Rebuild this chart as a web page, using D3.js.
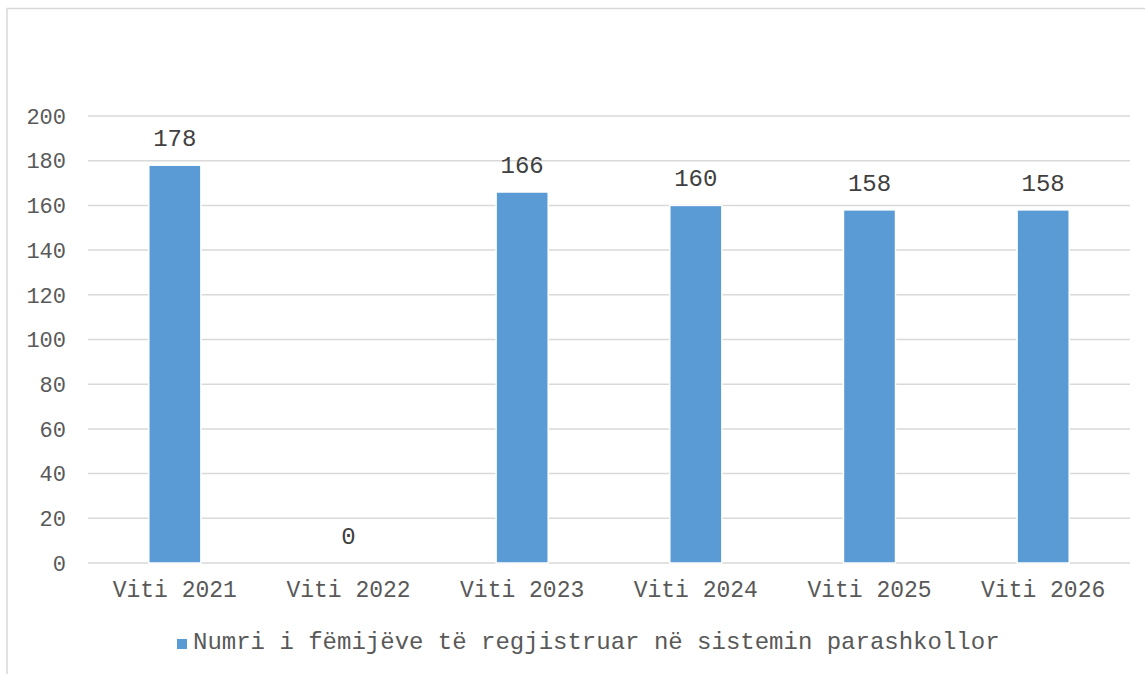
<!DOCTYPE html>
<html>
<head>
<meta charset="utf-8">
<script src="https://cdn.jsdelivr.net/npm/d3@7"></script>
<style>
  body { margin: 0; background: #fff; }
  text { font-family: "Liberation Mono", "Courier New", monospace; }
</style>
</head>
<body>
<div id="chart"></div>
<script>
// data
var categories = ["Viti 2021", "Viti 2022", "Viti 2023", "Viti 2024", "Viti 2025", "Viti 2026"];
var values = [178, 0, 166, 160, 158, 158];
var yTicks = [0, 20, 40, 60, 80, 100, 120, 140, 160, 180, 200];
var seriesName = "Numri i fëmijëve të regjistruar në sistemin parashkollor";

var W = 1145, H = 674;
var plot = {left: 88, right: 1130, top: 116, bottom: 563};

var svg = d3.select("#chart").append("svg")
  .attr("width", W)
  .attr("height", H);

// chart border (runs off the right / bottom edge like in the source)
svg.append("rect")
  .attr("x", 7).attr("y", 8.5)
  .attr("width", W + 20).attr("height", H + 20)
  .attr("fill", "none")
  .attr("stroke", "#d9d9d9")
  .attr("stroke-width", 1.5);

var x = d3.scaleBand()
  .domain(categories)
  .range([plot.left, plot.right])
  .paddingInner(0.7)
  .paddingOuter(0.35);

var y = d3.scaleLinear()
  .domain([0, 200])
  .range([plot.bottom, plot.top]);

// gridlines
svg.append("g")
  .selectAll("line")
  .data(yTicks)
  .enter().append("line")
  .attr("x1", plot.left).attr("x2", plot.right)
  .attr("y1", function(d) { return y(d); })
  .attr("y2", function(d) { return y(d); })
  .attr("stroke", "#d9d9d9")
  .attr("stroke-width", 1.5);

// y tick labels
svg.append("g")
  .selectAll("text")
  .data(yTicks)
  .enter().append("text")
  .attr("x", 66)
  .attr("y", function(d) { return y(d); })
  .attr("dy", "0.35em")
  .attr("text-anchor", "end")
  .attr("fill", "#595959")
  .style("font-size", "22px")
  .text(function(d) { return d; });

// bars
svg.append("g")
  .selectAll("rect")
  .data(values)
  .enter().append("rect")
  .attr("x", function(d, i) { return x(categories[i]); })
  .attr("width", x.bandwidth())
  .attr("y", function(d) { return y(d); })
  .attr("height", function(d) { return y(0) - y(d); })
  .attr("fill", "#5b9bd5")
  .attr("stroke", "#fff")
  .attr("stroke-width", 1.5);

// data labels
svg.append("g")
  .selectAll("text")
  .data(values)
  .enter().append("text")
  .attr("x", function(d, i) { return x(categories[i]) + x.bandwidth() / 2; })
  .attr("y", function(d) { return y(d) - 19; })
  .attr("text-anchor", "middle")
  .attr("fill", "#404040")
  .style("font-size", "24px")
  .text(function(d) { return d; });

// x labels
svg.append("g")
  .selectAll("text")
  .data(categories)
  .enter().append("text")
  .attr("x", function(d) { return x(d) + x.bandwidth() / 2; })
  .attr("y", 597)
  .attr("text-anchor", "middle")
  .attr("fill", "#595959")
  .style("font-size", "23px")
  .text(function(d) { return d; });

// legend
var legend = svg.append("g");
legend.append("rect")
  .attr("x", 177).attr("y", 639)
  .attr("width", 10).attr("height", 10)
  .attr("fill", "#5b9bd5");
legend.append("text")
  .attr("x", 193).attr("y", 649)
  .attr("fill", "#595959")
  .style("font-size", "24px")
  .text(seriesName);
</script>
</body>
</html>
